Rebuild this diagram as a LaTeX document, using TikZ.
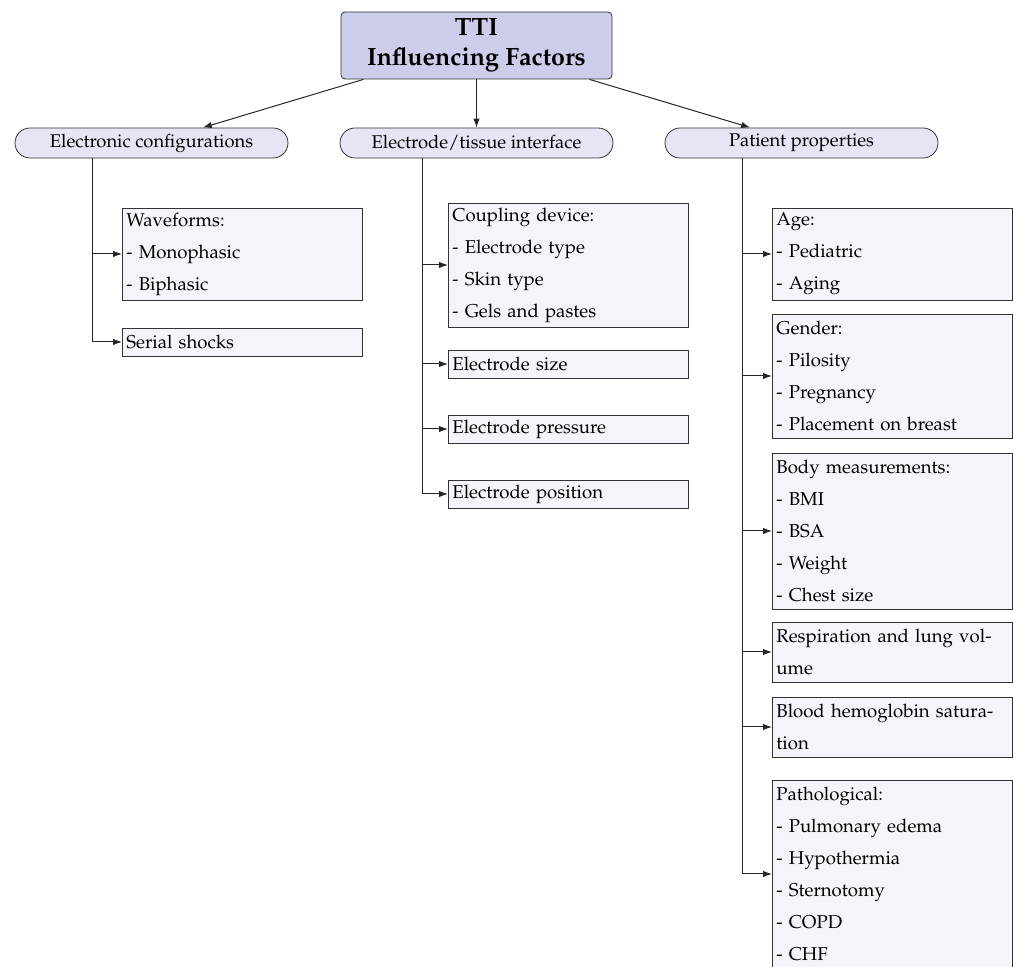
\documentclass[tikz,border=0pt]{standalone}
\usepackage[T1]{fontenc}
\usepackage{mathpazo}
\usetikzlibrary{arrows.meta,positioning}
\definecolor{rootfill}{RGB}{204,204,235}
\definecolor{catfill}{RGB}{229,229,245}
\definecolor{itemfill}{RGB}{244,244,251}
\begin{document}
\begin{tikzpicture}[x=0.5pt,y=-0.5pt,
    root/.style={draw=black!80,fill=rootfill,rounded corners=2pt,minimum width=135.5pt,minimum height=33.5pt,
      align=center,font=\fontsize{12.5}{15}\selectfont\bfseries},
    cat/.style={draw=black!80,fill=catfill,rounded corners=7.5pt,minimum width=136.5pt,minimum height=15pt,
      inner sep=0pt,font=\fontsize{9.2}{12}\selectfont},
    item/.style={draw=black!80,fill=itemfill,anchor=west,text width=116pt,inner xsep=2pt,inner ysep=0pt,
      align=left,minimum height=#1*16pt-2pt,font=\fontsize{9.3}{16}\selectfont},
    item/.default=1,
    link/.style={-{Latex[length=4.5pt,width=3.2pt]},black!85,line width=0.5pt}]
  \useasboundingbox (0,0) rectangle (1014,967);
  \node[root] (tti) at (476.5,45.5) {TTI\\Influencing Factors};
  \node[cat] (ec) at (151.5,143) {Electronic configurations};
  \node[cat] (eti) at (476.5,143) {Electrode/tissue interface};
  \node[cat] (pp) at (801.5,143) {Patient properties};
  \draw[link] (tti) -- (ec);
  \draw[link] (tti) -- (eti);
  \draw[link] (tti) -- (pp);
  % electronic configurations
  \node[item=3] (wave) at (122,254) {Waveforms:\\- Monophasic\\- Biphasic};
  \node[item] (shock) at (122,342) {Serial shocks};
  \draw[link] ([xshift=39pt]ec.south west) |- (wave.west);
  \draw[link] ([xshift=39pt]ec.south west) |- (shock.west);
  % electrode/tissue interface
  \node[item=4] (coupl) at (448,265) {Coupling device:\\- Electrode type\\- Skin type\\- Gels and pastes};
  \node[item] (esize) at (448,364) {Electrode size};
  \node[item] (epress) at (448,429) {Electrode pressure};
  \node[item] (epos) at (448,494) {Electrode position};
  \foreach \n in {coupl,esize,epress,epos}
    \draw[link] ([xshift=41.5pt]eti.south west) |- (\n.west);
  % patient properties
  \node[item=3] (age) at (772,254) {Age:\\- Pediatric\\- Aging};
  \node[item=4] (gender) at (772,376) {Gender:\\- Pilosity\\- Pregnancy\\- Placement on breast};
  \node[item=5] (body) at (772,531) {Body measurements:\\- BMI\\- BSA\\- Weight\\- Chest size};
  \node[item=2] (resp) at (772,652) {Respiration and lung vol-\\ume};
  \node[item=2] (blood) at (772,727) {Blood hemoglobin satura-\\tion};
  \node[item=6] (patho) at (772,874) {Pathological:\\- Pulmonary edema\\- Hypothermia\\- Sternotomy\\- COPD\\- CHF};
  \foreach \n in {age,gender,body,resp,blood,patho}
    \draw[link] ([xshift=39pt]pp.south west) |- (\n.west);
\end{tikzpicture}
\end{document}
